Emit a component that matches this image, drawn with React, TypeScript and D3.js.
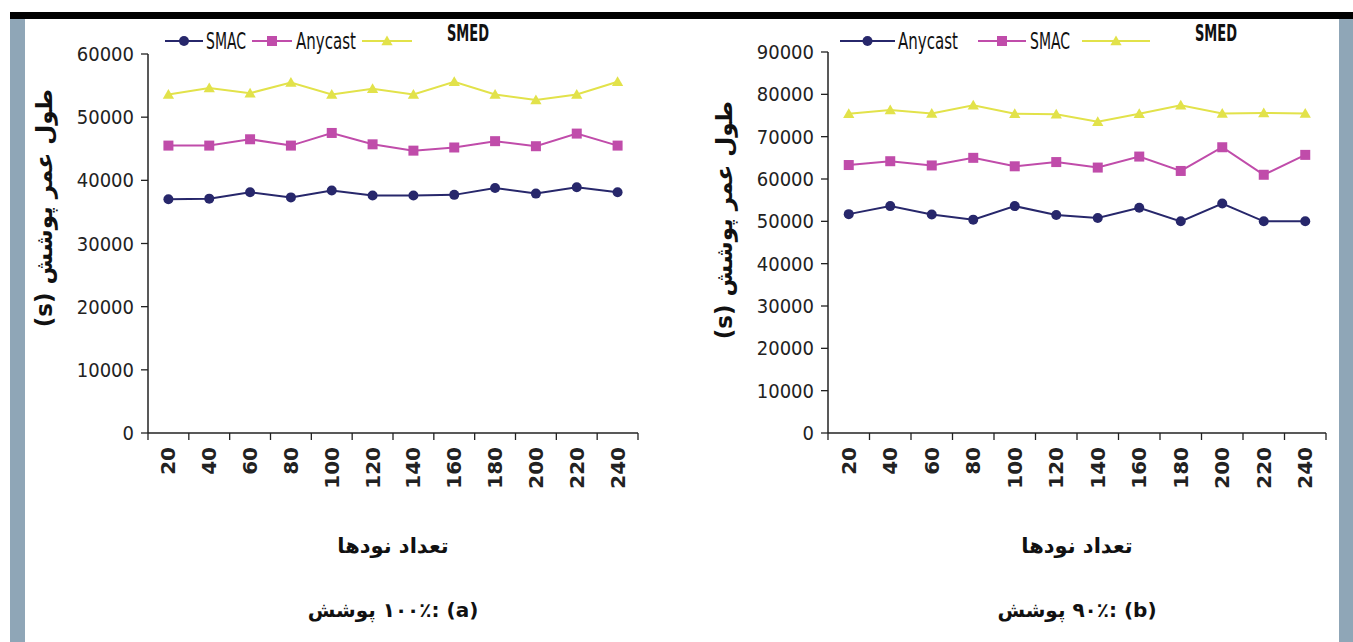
import React, { useEffect, useRef } from 'react';
import * as d3 from 'd3';

// node counts on the x axis
const nodeCounts = ['20', '40', '60', '80', '100', '120', '140', '160', '180', '200', '220', '240'];

// panel (a): 100% coverage
const smacA = [37000, 37100, 38100, 37300, 38400, 37600, 37600, 37700, 38800, 37900, 38900, 38100];
const anycastA = [45500, 45500, 46500, 45500, 47500, 45700, 44700, 45200, 46200, 45400, 47400, 45500];
const smedA = [53600, 54600, 53800, 55500, 53600, 54500, 53600, 55600, 53600, 52700, 53600, 55600];
const yTicksA = [0, 10000, 20000, 30000, 40000, 50000, 60000];

// panel (b): 90% coverage
const anycastB = [51700, 53600, 51600, 50400, 53600, 51500, 50800, 53200, 50000, 54200, 50000, 50000];
const smacB = [63300, 64200, 63200, 65000, 63000, 64000, 62700, 65300, 61900, 67500, 61000, 65700];
const smedB = [75400, 76300, 75500, 77400, 75400, 75300, 73500, 75400, 77400, 75500, 75600, 75500];
const yTicksB = [0, 10000, 20000, 30000, 40000, 50000, 60000, 70000, 80000, 90000];

const yTitle = 'طول عمر پوشش (s)';
const xTitle = 'تعداد نودها';
const captionA = '(a) :۱۰۰٪ پوشش';
const captionB = '(b) :۹۰٪ پوشش';

const NAVY = '#27276b';
const PINK = '#c04caa';
const YELLOW = '#e2e24a';
const NARROW = '"Liberation Sans Narrow", "DejaVu Sans Condensed", sans-serif';
const PERSIAN = '"DejaVu Sans", sans-serif';

type Series = { name: string; values: number[]; color: string; line: string; marker: string };

function drawMarker(g: any, kind: string, x: number, y: number, color: string) {
  if (kind === 'circle') {
    g.append('circle').attr('cx', x).attr('cy', y).attr('r', 5).attr('fill', color);
  } else if (kind === 'square') {
    g.append('rect').attr('x', x - 5).attr('y', y - 5).attr('width', 10).attr('height', 10).attr('fill', color);
  } else {
    g.append('path')
      .attr('d', d3.symbol().type(d3.symbolTriangle).size(55)())
      .attr('transform', 'translate(' + x + ',' + (y + 1) + ')')
      .attr('fill', color);
  }
}

function drawPanel(svg: any, opt: any) {
  const g = svg.append('g');
  const x = d3.scaleBand().domain(nodeCounts).range([opt.left, opt.right]);
  const y = d3.scaleLinear().domain([0, opt.yMax]).range([opt.bottom, opt.top]);

  // y axis
  g.append('line').attr('x1', opt.left).attr('x2', opt.left).attr('y1', opt.top).attr('y2', opt.bottom)
    .attr('stroke', '#222').attr('stroke-width', 1.5);
  opt.yTicks.forEach(function (t: number) {
    g.append('line').attr('x1', opt.left - 7).attr('x2', opt.left).attr('y1', y(t)).attr('y2', y(t))
      .attr('stroke', '#222').attr('stroke-width', 1.3);
    g.append('text').attr('x', opt.left - 14).attr('y', y(t) + 7).attr('text-anchor', 'end')
      .attr('font-family', NARROW).attr('font-size', 20).attr('fill', '#222').text(t);
  });

  // x axis, ticks between categories
  g.append('line').attr('x1', opt.left).attr('x2', opt.right).attr('y1', opt.bottom).attr('y2', opt.bottom)
    .attr('stroke', '#222').attr('stroke-width', 1.5);
  const edges = nodeCounts.map(function (c) { return x(c) as number; }).concat([opt.right]);
  edges.forEach(function (e) {
    g.append('line').attr('x1', e).attr('x2', e).attr('y1', opt.bottom).attr('y2', opt.bottom + 7)
      .attr('stroke', '#222').attr('stroke-width', 1.3);
  });
  nodeCounts.forEach(function (c) {
    const cx = (x(c) as number) + x.bandwidth() / 2;
    g.append('text')
      .attr('transform', 'translate(' + (cx + 7) + ',' + (opt.bottom + 14) + ') rotate(-90)')
      .attr('text-anchor', 'end').attr('font-family', PERSIAN).attr('font-weight', 'bold')
      .attr('font-size', 20).attr('fill', '#222').text(c);
  });

  // series
  opt.series.forEach(function (s: Series) {
    const line = d3.line<number>()
      .x(function (d, i) { return (x(nodeCounts[i]) as number) + x.bandwidth() / 2; })
      .y(function (d) { return y(d); });
    g.append('path').attr('d', line(s.values)).attr('fill', 'none').attr('stroke', s.line).attr('stroke-width', 2);
    s.values.forEach(function (v, i) {
      drawMarker(g, s.marker, (x(nodeCounts[i]) as number) + x.bandwidth() / 2, y(v), s.color);
    });
  });

  // legend
  opt.legend.forEach(function (l: any, i: number) {
    const s: Series = opt.series[i];
    g.append('line').attr('x1', l.x).attr('x2', l.x + l.w).attr('y1', opt.legendY).attr('y2', opt.legendY)
      .attr('stroke', s.line).attr('stroke-width', 2);
    drawMarker(g, s.marker, l.x + l.w / 2, opt.legendY, s.color);
    g.append('text').attr('x', l.tx).attr('y', opt.legendY + (s.marker === 'triangle' ? 0 : 8))
      .attr('font-family', NARROW).attr('font-size', 23).attr('fill', '#111')
      .attr('textLength', l.tw).attr('lengthAdjust', 'spacingAndGlyphs')
      .attr('font-weight', s.marker === 'triangle' ? 'bold' : 'normal').text(s.name);
  });

  // titles
  g.append('text')
    .attr('transform', 'translate(' + opt.yTitleX + ',' + opt.yTitleY + ') rotate(-90)')
    .attr('text-anchor', 'middle').attr('direction', 'rtl').attr('font-family', PERSIAN)
    .attr('font-weight', 'bold').attr('font-size', 23).attr('fill', '#111').text(yTitle);
  const mid = (opt.left + opt.right) / 2;
  g.append('text').attr('x', mid).attr('y', 553).attr('text-anchor', 'middle').attr('direction', 'rtl')
    .attr('font-family', PERSIAN).attr('font-weight', 'bold').attr('font-size', 21).attr('fill', '#111').text(xTitle);
  g.append('text').attr('x', mid).attr('y', 617).attr('text-anchor', 'middle').attr('direction', 'rtl')
    .attr('font-family', PERSIAN).attr('font-weight', 'bold').attr('font-size', 20).attr('fill', '#111').text(opt.caption);
}

export default function App() {
  const ref = useRef<SVGSVGElement>(null);

  useEffect(() => {
    const svg = d3.select(ref.current);
    svg.selectAll('*').remove();

    svg.append('rect').attr('width', 1353).attr('height', 642).attr('fill', '#fff');
    svg.append('rect').attr('x', 10).attr('y', 18).attr('width', 15).attr('height', 624).attr('fill', '#8fa6b7');
    svg.append('rect').attr('x', 1339).attr('y', 18).attr('width', 14).attr('height', 624).attr('fill', '#8fa6b7');
    svg.append('rect').attr('x', 10).attr('y', 12).attr('width', 1343).attr('height', 7).attr('fill', '#000');

    drawPanel(svg, {
      left: 148, right: 638, top: 54, bottom: 433, yMax: 60000, yTicks: yTicksA,
      series: [
        { name: 'SMAC', values: smacA, color: NAVY, line: NAVY, marker: 'circle' },
        { name: 'Anycast', values: anycastA, color: PINK, line: PINK, marker: 'square' },
        { name: 'SMED', values: smedA, color: YELLOW, line: YELLOW, marker: 'triangle' },
      ],
      legendY: 41,
      legend: [
        { x: 165, w: 38, tx: 206, tw: 40 },
        { x: 252, w: 40, tx: 296, tw: 60 },
        { x: 362, w: 50, tx: 447, tw: 42 },
      ],
      yTitleX: 52, yTitleY: 208, caption: captionA,
    });

    drawPanel(svg, {
      left: 828, right: 1326, top: 52, bottom: 433, yMax: 90000, yTicks: yTicksB,
      series: [
        { name: 'Anycast', values: anycastB, color: NAVY, line: NAVY, marker: 'circle' },
        { name: 'SMAC', values: smacB, color: PINK, line: PINK, marker: 'square' },
        { name: 'SMED', values: smedB, color: YELLOW, line: YELLOW, marker: 'triangle' },
      ],
      legendY: 41,
      legend: [
        { x: 840, w: 55, tx: 898, tw: 60 },
        { x: 978, w: 48, tx: 1030, tw: 40 },
        { x: 1082, w: 68, tx: 1195, tw: 42 },
      ],
      yTitleX: 732, yTitleY: 220, caption: captionB,
    });
  }, []);

  return (
    <svg ref={ref} width={1353} height={642} style={{ position: 'absolute', left: 0, top: 0 }} />
  );
}
